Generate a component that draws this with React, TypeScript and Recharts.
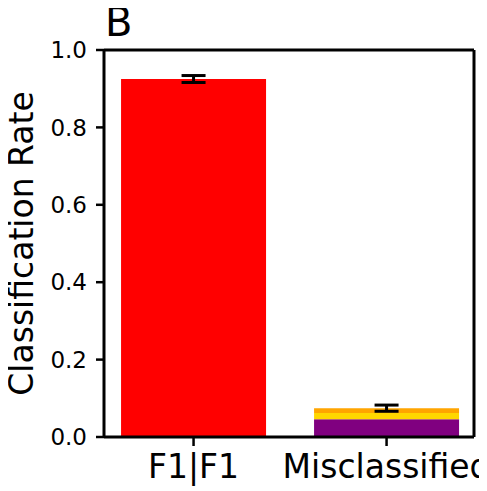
import React from 'react'
import { BarChart, Bar, XAxis, YAxis, ErrorBar, ReferenceLine } from 'recharts'

const categories = ['F1|F1', 'Misclassified']
const correctRate = [0.925, 0]
const purpleRate = [0, 0.046]
const goldRate = [0, 0.016]
const orangeRate = [0, 0.0125]
const correctErr = [0.009, 0]
const misErr = [0, 0.008]
const yTicks = [0, 0.2, 0.4, 0.6, 0.8, 1.0]

const data = categories.map((name, i) => ({
  x: i,
  name,
  correct: correctRate[i],
  purple: purpleRate[i],
  gold: goldRate[i],
  orange: orangeRate[i],
  correctErr: i === 0 ? correctErr[i] : undefined,
  misErr: i === 1 ? misErr[i] : undefined
}))

const font = 'DejaVu Sans'
const xDomain = [-0.464, 1.453]

const YLabel = ({ viewBox }: any) => {
  const cx = viewBox.x + 13
  const cy = viewBox.y + viewBox.height / 2
  return (
    <text
      x={cx}
      y={cy}
      transform={`rotate(-90 ${cx} ${cy})`}
      textAnchor="middle"
      dominantBaseline="central"
      fontFamily={font}
      fontSize={33}
      fill="#000"
    >
      Classification Rate
    </text>
  )
}

export default function App() {
  return (
    <div style={{ position: 'relative', width: 479, height: 483, fontFamily: font }}>
      <div
        style={{
          position: 'absolute',
          left: 97,
          top: -4,
          fontSize: 40,
          lineHeight: '36px',
          color: '#000'
        }}
      >
        B
      </div>
      <BarChart
        width={479}
        height={483}
        data={data}
        margin={{ top: 42, right: 13, bottom: 0, left: 0 }}
        barCategoryGap={0}
      >
        <XAxis
          dataKey="x"
          type="number"
          domain={xDomain}
          ticks={[0, 1]}
          tickFormatter={(v: number) => categories[v]}
          height={54}
          tickSize={9}
          tickMargin={9}
          interval={0}
          allowDataOverflow
          axisLine={{ stroke: '#000', strokeWidth: 3 }}
          tickLine={{ stroke: '#000', strokeWidth: 2.5 }}
          tick={{ fill: '#000', fontSize: 33, fontFamily: font }}
        />
        <YAxis
          domain={[0, 1]}
          ticks={yTicks}
          width={96}
          tickSize={8}
          tickMargin={9}
          tickFormatter={(v: number) => v.toFixed(1)}
          axisLine={{ stroke: '#000', strokeWidth: 3 }}
          tickLine={{ stroke: '#000', strokeWidth: 2.5 }}
          tick={{ fill: '#000', fontSize: 23, fontFamily: font }}
          label={YLabel}
        />
        <Bar dataKey="correct" stackId="a" fill="#ff0000" barSize={145} isAnimationActive={false}>
          <ErrorBar dataKey="correctErr" width={12} strokeWidth={3} stroke="#000" direction="y" />
        </Bar>
        <Bar dataKey="purple" stackId="a" fill="#800080" barSize={145} isAnimationActive={false} />
        <Bar dataKey="gold" stackId="a" fill="#ffd700" barSize={145} isAnimationActive={false} />
        <Bar dataKey="orange" stackId="a" fill="#ffa500" barSize={145} isAnimationActive={false}>
          <ErrorBar dataKey="misErr" width={12} strokeWidth={3} stroke="#000" direction="y" />
        </Bar>
        {/* top and right spines */}
        <ReferenceLine y={1} stroke="#000" strokeWidth={3} ifOverflow="visible" />
        <ReferenceLine x={xDomain[1]} stroke="#000" strokeWidth={3} ifOverflow="visible" />
      </BarChart>
    </div>
  )
}
